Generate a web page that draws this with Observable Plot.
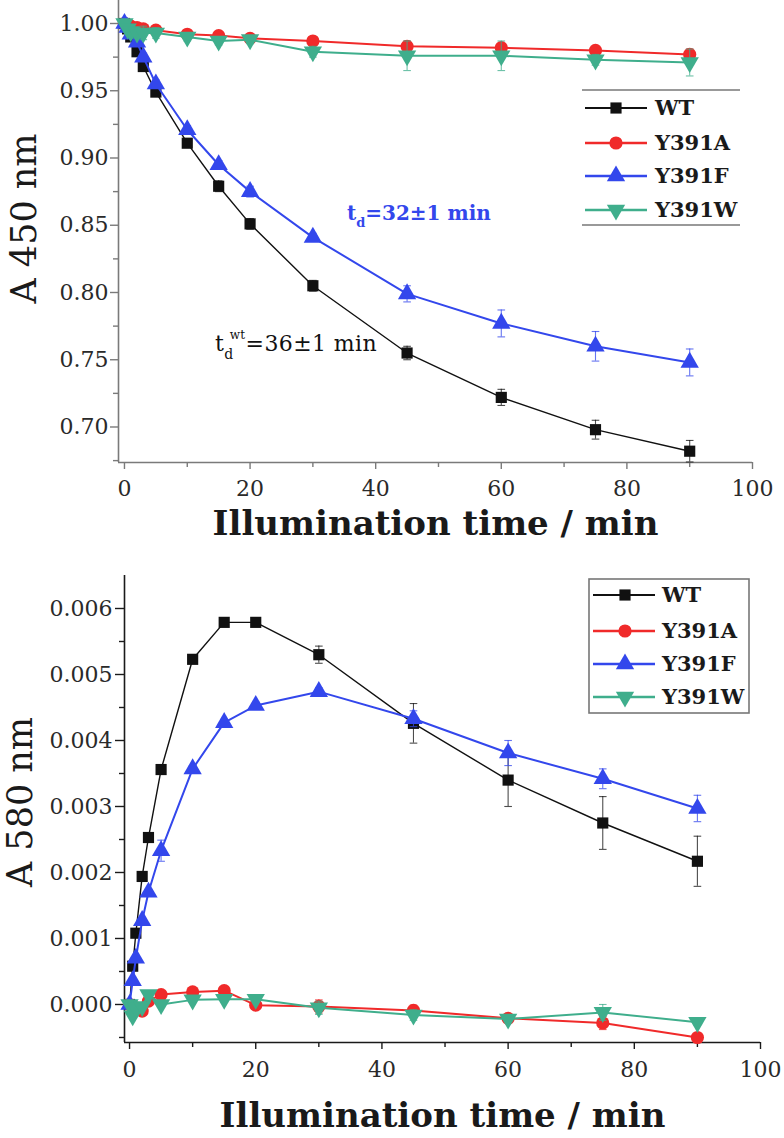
<!DOCTYPE html>
<html><head><meta charset="utf-8">
<script src="https://cdn.jsdelivr.net/npm/d3@7"></script>
<script src="https://cdn.jsdelivr.net/npm/@observablehq/plot@0.6"></script>
<style>
body{margin:0;background:#fff;}
#wrap{position:relative;width:784px;height:1138px;overflow:hidden;background:#fff;}
#top{position:absolute;left:0;top:0;}
#bot{position:absolute;left:0;top:548px;}
.legend{position:absolute;left:0;top:0;pointer-events:none;}
</style></head><body><div id="wrap"><div id="top"></div><div id="bot"></div></div>
<script>
// ---------- data ----------
const times = [0, 0.5, 1, 2, 3, 5, 10, 15, 20, 30, 45, 60, 75, 90];
const seriesNames = ["WT", "Y391A", "Y391F", "Y391W"];
const seriesColors = ["#111111", "#f02a2a", "#3347ec", "#3fae8c"];

// A 450 nm
const wt450 = [1.000, 0.996, 0.990, 0.979, 0.968, 0.949, 0.911, 0.879, 0.851, 0.805, 0.755, 0.722, 0.698, 0.682];
const a450  = [1.000, 0.999, 0.998, 0.997, 0.996, 0.995, 0.992, 0.991, 0.989, 0.987, 0.983, 0.982, 0.980, 0.977];
const f450  = [1.000, 0.997, 0.992, 0.986, 0.975, 0.955, 0.921, 0.895, 0.875, 0.841, 0.799, 0.777, 0.760, 0.748];
const w450  = [1.000, 0.996, 0.994, 0.993, 0.993, 0.993, 0.990, 0.987, 0.988, 0.979, 0.976, 0.976, 0.973, 0.971];
const wtErr450 = [0.002, 0.002, 0.002, 0.003, 0.003, 0.002, 0.003, 0.004, 0.004, 0.004, 0.005, 0.006, 0.007, 0.008];
const aErr450  = [0.001, 0.001, 0.002, 0.002, 0.002, 0.002, 0.002, 0.002, 0.002, 0.002, 0.004, 0.003, 0.003, 0.004];
const fErr450  = [0.002, 0.002, 0.003, 0.003, 0.003, 0.003, 0.003, 0.003, 0.004, 0.003, 0.006, 0.010, 0.011, 0.010];
const wErr450  = [0.002, 0.003, 0.004, 0.004, 0.005, 0.004, 0.003, 0.003, 0.003, 0.004, 0.011, 0.011, 0.004, 0.010];

// A 580 nm
const wt580 = [0.00000, 0.00058, 0.00108, 0.00194, 0.00253, 0.00356, 0.00523, 0.00579, 0.00579, 0.00530, 0.00426, 0.00340, 0.00275, 0.00217];
const a580  = [0.00000, -0.00004, -0.00005, -0.00010, 0.00005, 0.00015, 0.00019, 0.00021, -0.00001, -0.00003, -0.00009, -0.00021, -0.00028, -0.00050];
const f580  = [0.00000, 0.00036, 0.00070, 0.00127, 0.00170, 0.00233, 0.00357, 0.00427, 0.00453, 0.00474, 0.00433, 0.00381, 0.00342, 0.00297];
const w580  = [0.00000, -0.00017, -0.00005, -0.00003, 0.00015, 0.00000, 0.00007, 0.00008, 0.00008, -0.00005, -0.00016, -0.00022, -0.00012, -0.00027];
const wtErr580 = [0, 0.00003, 0.00004, 0.00004, 0.00004, 0.00004, 0.00004, 0.00004, 0.00005, 0.00013, 0.00030, 0.00040, 0.00040, 0.00038];
const aErr580  = [0, 0.00003, 0.00003, 0.00003, 0.00003, 0.00004, 0.00004, 0.00006, 0.00004, 0.00010, 0.00008, 0.00004, 0.00010, 0.00004];
const fErr580  = [0, 0.00003, 0.00004, 0.00004, 0.00004, 0.00016, 0.00005, 0.00005, 0.00005, 0.00006, 0.00012, 0.00019, 0.00015, 0.00020];
const wErr580  = [0, 0.00004, 0.00004, 0.00004, 0.00004, 0.00004, 0.00004, 0.00004, 0.00004, 0.00010, 0.00008, 0.00004, 0.00012, 0.00004];

// ticks
const xMajor = [0, 20, 40, 60, 80, 100];
const xMinor = [10, 30, 50, 70, 90];
const y450Major = [0.70, 0.75, 0.80, 0.85, 0.90, 0.95, 1.00];
const y450Minor = [0.675, 0.725, 0.775, 0.825, 0.875, 0.925, 0.975];
const y580Major = [0.000, 0.001, 0.002, 0.003, 0.004, 0.005, 0.006];
const y580Minor = [-0.0005, 0.0005, 0.0015, 0.0025, 0.0035, 0.0045, 0.0055];

const titleX = "Illumination time / min";
const title450 = "A 450 nm";
const title580 = "A 580 nm";

// ---------- symbols ----------
const sqrt3 = Math.sqrt(3);
const triDown = {draw(ctx, size) {
  const y = -Math.sqrt(size / (sqrt3 * 3));
  ctx.moveTo(0, -y * 2); ctx.lineTo(-sqrt3 * y, y); ctx.lineTo(sqrt3 * y, y); ctx.closePath();
}};
const capSym = {draw(ctx, size) {
  const w = Math.sqrt(size) / 2;
  ctx.moveTo(-w, 0); ctx.lineTo(w, 0);
}};
const seriesSymbols = ["square", "circle", "triangle", triDown];
const seriesR = [6.3, 6.6, 6.8, 6.8];
const lineW = [1.4, 2, 2, 2];

function rows(vals, errs) { return times.map((t, i) => ({t, v: vals[i], e: errs[i]})); }

function seriesMarks(data, k) {
  const c = seriesColors[k];
  return [
    Plot.ruleX(data.filter(d => d.e > 0), {x: "t", y1: d => d.v - d.e, y2: d => d.v + d.e, stroke: c, strokeWidth: 1.1, strokeOpacity: 0.75}),
    Plot.dot(data.filter(d => d.e > 0), {x: "t", y: d => d.v + d.e, symbol: capSym, r: 4.3, stroke: c, fill: "none", strokeWidth: 1.1, strokeOpacity: 0.75}),
    Plot.dot(data.filter(d => d.e > 0), {x: "t", y: d => d.v - d.e, symbol: capSym, r: 4.3, stroke: c, fill: "none", strokeWidth: 1.1, strokeOpacity: 0.75}),
    Plot.line(data, {x: "t", y: "v", stroke: c, strokeWidth: lineW[k]}),
    Plot.dot(data, {x: "t", y: "v", symbol: seriesSymbols[k], r: seriesR[k], fill: c, stroke: "none"})
  ];
}

// ---------- top panel ----------
const top450 = [rows(wt450, wtErr450), rows(a450, aErr450), rows(f450, fErr450), rows(w450, wErr450)];
const axisGray = "#7a7a7a";
const plotTop = Plot.plot({
  width: 784, height: 548,
  marginLeft: 118, marginRight: 32, marginTop: 0, marginBottom: 86,
  x: {domain: [-0.95, 100]},
  y: {domain: [0.6736, 1.0171]},
  style: {fontFamily: "DejaVu Serif", fontSize: "22px", background: "white", overflow: "visible", color: "#2a2a2a"},
  marks: [
    Plot.ruleX([-0.95], {stroke: axisGray, strokeWidth: 1.6}),
    Plot.ruleY([0.6736], {stroke: axisGray, strokeWidth: 1.6}),
    Plot.axisY(y450Major, {tickSize: 8, tickPadding: 2, tickFormat: d3.format(".2f"), stroke: axisGray, strokeWidth: 1.4, fontSize: 22, label: null}),
    Plot.axisY(y450Minor, {tickSize: 5, tickFormat: () => "", stroke: axisGray, strokeWidth: 1.4, label: null}),
    Plot.axisX(xMajor, {tickSize: 7, tickPadding: 11, tickFormat: d3.format("d"), stroke: axisGray, strokeWidth: 1.4, fontSize: 22, label: null}),
    Plot.axisX(xMinor, {tickSize: 5, tickFormat: () => "", stroke: axisGray, strokeWidth: 1.4, label: null}),
    ...top450.flatMap((d, k) => seriesMarks(d, k)),
    Plot.text([titleX], {frameAnchor: "bottom", dy: 62, fontSize: 34, fontWeight: "bold", fill: "#1a1a1a", lineAnchor: "middle"}),
    Plot.text([title450], {frameAnchor: "left", textAnchor: "middle", dx: -94, dy: -13, rotate: -90, fontSize: 35, fill: "#1a1a1a", lineAnchor: "middle"})
  ]
});
document.getElementById("top").appendChild(plotTop);

// annotations (positioned through the plot's scales)
{
  const sx = plotTop.scale("x"), sy = plotTop.scale("y");
  const svg = d3.select(plotTop);
  const a1 = svg.append("text").attr("x", sx.apply(35.5)).attr("y", sy.apply(0.8533)).attr("text-anchor", "start")
    .attr("font-family", "DejaVu Serif").attr("font-weight", "bold").attr("font-size", 20).attr("fill", seriesColors[2]);
  a1.append("tspan").text("t");
  a1.append("tspan").attr("font-size", 13).attr("dy", 7).text("d");
  a1.append("tspan").attr("dy", -7).text("=32±1 min");
  const a2 = svg.append("text").attr("x", sx.apply(14.5)).attr("y", sy.apply(0.7562)).attr("text-anchor", "start")
    .attr("font-family", "DejaVu Serif").attr("font-size", 22).attr("letter-spacing", 0.4).attr("fill", "#111");
  a2.append("tspan").text("t");
  a2.append("tspan").attr("font-size", 14).attr("dy", 8).text("d");
  a2.append("tspan").attr("font-size", 12).attr("dy", -20).attr("dx", -4).text("wt");
  a2.append("tspan").attr("dy", 12).text("=36±1 min");
}

// ---------- bottom panel ----------
const bot580 = [rows(wt580, wtErr580), rows(a580, aErr580), rows(f580, fErr580), rows(w580, wErr580)];
const axisDark = "#1a1a1a";
const plotBot = Plot.plot({
  width: 784, height: 590,
  marginLeft: 124, marginRight: 24, marginTop: 27, marginBottom: 96,
  x: {domain: [-0.8, 100]},
  y: {domain: [-0.000576, 0.0065]},
  style: {fontFamily: "DejaVu Serif", fontSize: "22px", background: "white", overflow: "visible", color: "#2a2a2a"},
  marks: [
    Plot.ruleX([-0.8], {stroke: axisDark, strokeWidth: 1.6}),
    Plot.ruleY([-0.000576], {stroke: axisDark, strokeWidth: 1.6}),
    Plot.axisY(y580Major, {tickSize: 9, tickPadding: 3, tickFormat: d3.format(".3f"), stroke: axisDark, strokeWidth: 1.4, fontSize: 22, label: null}),
    Plot.axisY(y580Minor, {tickSize: 5, tickFormat: () => "", stroke: axisDark, strokeWidth: 1.4, label: null}),
    Plot.axisX(xMajor, {tickSize: 7, tickPadding: 12, tickFormat: d3.format("d"), stroke: axisDark, strokeWidth: 1.4, fontSize: 22, label: null}),
    Plot.axisX(xMinor, {tickSize: 5, tickFormat: () => "", stroke: axisDark, strokeWidth: 1.4, label: null}),
    ...bot580.flatMap((d, k) => seriesMarks(d, k)),
    Plot.text([titleX], {frameAnchor: "bottom", dy: 74, fontSize: 34, fontWeight: "bold", fill: "#1a1a1a", lineAnchor: "middle"}),
    Plot.text([title580], {frameAnchor: "left", textAnchor: "middle", dx: -104, dy: -7, rotate: -90, fontSize: 35, fill: "#1a1a1a", lineAnchor: "middle"})
  ]
});
document.getElementById("bot").appendChild(plotBot);

// ---------- legends ----------
function legend(opts) {
  const svg = d3.select("#wrap").append("svg").attr("class", "legend").attr("width", 784).attr("height", 1138);
  if (opts.box) {
    svg.append("rect").attr("x", opts.x0).attr("y", opts.y0).attr("width", opts.x1 - opts.x0).attr("height", opts.y1 - opts.y0)
      .attr("fill", "white").attr("stroke", "#777").attr("stroke-width", 1.6);
  } else {
    [opts.y0, opts.y1].forEach(y => svg.append("line").attr("x1", opts.x0).attr("x2", opts.x1).attr("y1", y).attr("y2", y)
      .attr("stroke", "#999").attr("stroke-width", 1.8));
  }
  seriesNames.forEach((name, k) => {
    const y = opts.ys[k];
    svg.append("line").attr("x1", opts.lx0).attr("x2", opts.lx1).attr("y1", y).attr("y2", y)
      .attr("stroke", seriesColors[k]).attr("stroke-width", lineW[k] + 0.4);
    const symType = typeof seriesSymbols[k] === "string"
      ? {square: d3.symbolSquare, circle: d3.symbolCircle, triangle: d3.symbolTriangle}[seriesSymbols[k]]
      : seriesSymbols[k];
    const r = seriesR[k];
    svg.append("path").attr("d", d3.symbol(symType, Math.PI * r * r)()).attr("transform", `translate(${opts.mx},${y})`)
      .attr("fill", seriesColors[k]);
    svg.append("text").attr("x", opts.tx).attr("y", y).attr("dy", "0.35em")
      .attr("font-family", "DejaVu Serif").attr("font-weight", "bold").attr("font-size", 21).attr("fill", "#1a1a1a").text(name);
  });
}
legend({box: false, x0: 582, x1: 740, y0: 90, y1: 225, ys: [108, 143, 176, 210], lx0: 585, lx1: 647, mx: 616, tx: 655});
legend({box: true, x0: 589, x1: 749, y0: 579, y1: 713, ys: [595, 631, 664, 697], lx0: 593, lx1: 655, mx: 625, tx: 662});
</script></body></html>
